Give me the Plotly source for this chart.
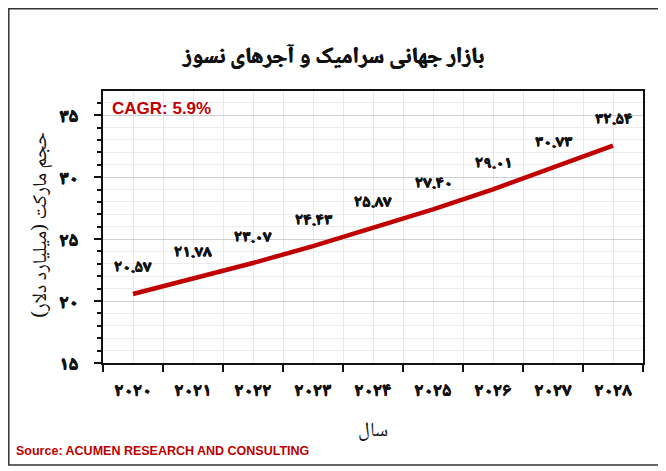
import plotly.graph_objects as go

years = [2020, 2021, 2022, 2023, 2024, 2025, 2026, 2027, 2028]
year_labels = ["۲۰۲۰", "۲۰۲۱", "۲۰۲۲", "۲۰۲۳", "۲۰۲۴", "۲۰۲۵", "۲۰۲۶", "۲۰۲۷", "۲۰۲۸"]
values = [20.57, 21.78, 23.07, 24.43, 25.87, 27.40, 29.01, 30.73, 32.54]
value_labels = ["۲۰.۵۷", "۲۱.۷۸", "۲۳.۰۷", "۲۴.۴۳", "۲۵.۸۷", "۲۷.۴۰", "۲۹.۰۱", "۳۰.۷۳", "۳۲.۵۴"]
y_ticks = [15, 20, 25, 30, 35]
y_tick_labels = ["۱۵", "۲۰", "۲۵", "۳۰", "۳۵"]

title_text = "بازار جهانی سرامیک و آجرهای نسوز"
y_title = "حجم مارکت (میلیارد دلار)"
x_title = "سال"
cagr_text = "CAGR: 5.9%"
source_text = "Source: ACUMEN RESEARCH AND CONSULTING"

RED = "#C00000"
INK = "#111111"
FONT = "Noto Naskh Arabic, Noto Sans Arabic, DejaVu Sans"
HEAVY = "0.6px 0 0 #111111, -0.6px 0 0 #111111, 0 0.4px 0 #111111"

# page body has an 8px margin; work in window pixel coordinates and shift
OFF = 8
WIN_W, WIN_H = 666, 471
W, H = WIN_W - OFF, WIN_H - OFF
PX0, PX1, PY0, PY1 = 103, 643, 91, 363
L, R, T, B = PX0 - OFF, WIN_W - PX1, PY0 - OFF, WIN_H - PY1
pw, ph = PX1 - PX0, PY1 - PY0

def px(xw):
    return (xw - PX0) / pw

def py(yw):
    return (PY1 - yw) / ph

fig = go.Figure()
fig.add_trace(go.Scatter(
    x=years, y=values, mode="lines",
    line=dict(color=RED, width=4.5),
    hoverinfo="skip", showlegend=False,
))

for x, y, t in zip(years, values, value_labels):
    fig.add_annotation(x=x, y=y, text=t, showarrow=False, yshift=25,
                       font=dict(family=FONT, size=17, color=INK, weight="bold", shadow=HEAVY))

fig.add_annotation(xref="paper", yref="paper", x=px(110), y=py(108), xanchor="left", yanchor="middle",
                   text=cagr_text, showarrow=False,
                   font=dict(family="Liberation Sans", size=17, color=RED, weight="bold"))
fig.add_annotation(xref="paper", yref="paper", x=px(14), y=py(451), xanchor="left", yanchor="middle",
                   text=source_text, showarrow=False,
                   font=dict(family="Liberation Sans", size=12.5, color=RED, weight="bold"))
fig.add_annotation(xref="paper", yref="paper", x=px(42), y=py(225), xanchor="center", yanchor="middle",
                   text=y_title, showarrow=False, textangle=-90,
                   font=dict(family=FONT, size=20, color=INK))
fig.add_annotation(xref="paper", yref="paper", x=0.5, y=py(432), xanchor="center", yanchor="middle",
                   text=x_title, showarrow=False,
                   font=dict(family=FONT, size=20, color=INK))
fig.add_annotation(xref="paper", yref="paper", x=0.5 * (px(7) + px(659)), y=py(58),
                   xanchor="center", yanchor="middle",
                   text=title_text, showarrow=False,
                   font=dict(family=FONT, size=23, color=INK, weight="bold",
                             shadow="0.5px 0 0 #111111, -0.5px 0 0 #111111"))

# outer border
fig.add_shape(type="rect", xref="paper", yref="paper",
              x0=px(8.8), x1=px(659), y0=py(465), y1=py(8.8),
              line=dict(color="#333333", width=1.5), layer="above")

fig.update_layout(
    width=W, height=H,
    margin=dict(l=L, r=R, t=T, b=B),
    paper_bgcolor="white", plot_bgcolor="white",
    xaxis=dict(
        range=[2019.5, 2028.5], tickvals=years, ticktext=year_labels,
        ticks="", showgrid=True, gridcolor="#e8e8e8", gridwidth=1,
        showline=True, linecolor=INK, linewidth=1.5, mirror=True,
        tickfont=dict(family=FONT, size=19, color=INK, weight="bold", shadow=HEAVY),
        ticklabelstandoff=8, zeroline=False,
        minor=dict(tick0=2019.5, dtick=1, ticks="outside", ticklen=7, tickcolor=INK,
                   tickwidth=1.5, showgrid=True, gridcolor="#e8e8e8", gridwidth=1),
    ),
    yaxis=dict(
        range=[15, 36.95], tickvals=y_ticks, ticktext=y_tick_labels,
        ticks="outside", ticklen=7, tickcolor=INK, tickwidth=1.5,
        showgrid=True, gridcolor="#cfcfcf", gridwidth=1.2,
        showline=True, linecolor=INK, linewidth=1.5, mirror=True,
        tickfont=dict(family=FONT, size=19.5, color=INK, weight="bold", shadow=HEAVY),
        ticklabelstandoff=12, zeroline=False,
        minor=dict(dtick=1, ticks="outside", ticklen=4, tickcolor=INK, tickwidth=1.5,
                   showgrid=True, gridcolor="#ececec", gridwidth=1),
    ),
)

fig.write_html("out.html")
